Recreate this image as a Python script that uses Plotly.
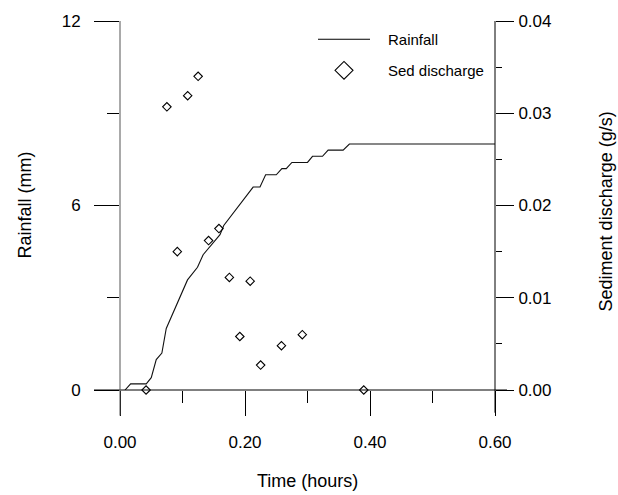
import plotly.graph_objects as go

# Rainfall cumulative (mm) vs time (hours)
rain_time = [0.008, 0.017, 0.042, 0.050, 0.058, 0.067, 0.074, 0.108, 0.124, 0.133,
             0.160, 0.166, 0.213, 0.224, 0.233, 0.250, 0.259, 0.266, 0.275, 0.300,
             0.308, 0.324, 0.333, 0.357, 0.367, 0.600]
rain_mm = [0.0, 0.2, 0.2, 0.4, 0.99, 1.2, 2.0, 3.58, 3.99, 4.4,
           5.05, 5.35, 6.6, 6.6, 7.0, 7.0, 7.2, 7.2, 7.4, 7.4,
           7.6, 7.6, 7.8, 7.8, 8.0, 8.0]

# Sediment discharge (g/s) vs time (hours)
sed_time = [0.0417, 0.0750, 0.0917, 0.1083, 0.1250, 0.1417, 0.1583, 0.1750,
            0.1917, 0.2083, 0.2250, 0.2583, 0.2917, 0.3900]
sed_gs = [0.0000, 0.0307, 0.0150, 0.0319, 0.0340, 0.0162, 0.0175, 0.0122,
          0.0058, 0.0118, 0.0027, 0.0048, 0.0060, 0.0000]

x_ticks = [0.0, 0.2, 0.4, 0.6]
x_ticktext = ["0.00", "0.20", "0.40", "0.60"]
y1_ticks = [0, 6, 12]
y1_ticktext = ["0", "6", "12"]
y2_ticks = [0.0, 0.01, 0.02, 0.03, 0.04]
y2_ticktext = ["0.00", "0.01", "0.02", "0.03", "0.04"]

FONT = "Arial, 'Liberation Sans', sans-serif"
W, H = 618, 495
L, R, T, B = 120, 123, 16, 105
PW, PH = W - L - R, H - T - B


def px(xp):
    return (xp - L) / PW


def py(yp):
    return (H - B - yp) / PH


fig = go.Figure()
fig.add_trace(go.Scatter(x=rain_time, y=rain_mm, mode="lines",
                         line=dict(color="#111111", width=1.1),
                         name="Rainfall", showlegend=False, yaxis="y"))
fig.add_trace(go.Scatter(x=sed_time, y=sed_gs, mode="markers",
                         marker=dict(symbol="diamond-open", size=6.5,
                                     color="black", line=dict(width=1.1, color="black")),
                         name="Sed discharge", showlegend=False, yaxis="y2",
                         cliponaxis=False))

tickfont = dict(family=FONT, size=17, color="black")

fig.update_layout(
    width=W, height=H,
    margin=dict(l=L, r=R, t=T, b=B),
    paper_bgcolor="white", plot_bgcolor="white",
    showlegend=False,
    xaxis=dict(range=[0, 0.6], showgrid=False, zeroline=False, showline=False,
               tickmode="array", tickvals=x_ticks, ticktext=x_ticktext,
               ticks="outside", ticklen=25, tickwidth=1, tickcolor="black",
               tickfont=tickfont, ticklabelstandoff=12,
               minor=dict(tickmode="array", tickvals=[0.1, 0.3, 0.5],
                          ticks="outside", ticklen=12, tickwidth=1, tickcolor="black")),
    yaxis=dict(range=[0, 12], showgrid=False, zeroline=False, showline=False,
               tickmode="array", tickvals=y1_ticks, ticktext=y1_ticktext,
               ticks="outside", ticklen=25, tickwidth=1, tickcolor="black",
               tickfont=tickfont, ticklabelstandoff=10,
               minor=dict(tickmode="array", tickvals=[3, 9],
                          ticks="outside", ticklen=12, tickwidth=1, tickcolor="black")),
    yaxis2=dict(range=[0, 0.04], overlaying="y", side="right", anchor="x",
                showgrid=False, zeroline=False, showline=False,
                tickmode="array", tickvals=y2_ticks, ticktext=y2_ticktext,
                ticks="outside", ticklen=18, tickwidth=1, tickcolor="black",
                tickfont=tickfont, ticklabelstandoff=1,
                minor=dict(tickmode="array", tickvals=[0.005, 0.015, 0.025, 0.035],
                           ticks="outside", ticklen=6, tickwidth=1, tickcolor="black")),
)

# Axis lines (extend past the plot area like the original)
fig.add_shape(type="line", xref="paper", yref="paper",
              x0=px(94), x1=px(507), y0=0, y1=0, line=dict(color="black", width=1))
fig.add_shape(type="line", xref="paper", yref="paper",
              x0=0, x1=0, y0=py(416), y1=1, line=dict(color="#555555", width=1))
fig.add_shape(type="line", xref="paper", yref="paper",
              x0=1, x1=1, y0=py(413), y1=1, line=dict(color="black", width=1))

# Legend (drawn manually)
fig.add_shape(type="line", xref="paper", yref="paper",
              x0=px(318), x1=px(370), y0=py(34.5), y1=py(34.5),
              line=dict(color="black", width=1))
cx, cy, hw = 344, 66, 9
fig.add_shape(type="path", xref="paper", yref="paper",
              path=(f"M {px(cx - hw)} {py(cy)} L {px(cx)} {py(cy - hw)} "
                    f"L {px(cx + hw)} {py(cy)} L {px(cx)} {py(cy + hw)} Z"),
              line=dict(color="black", width=1.1))
legfont = dict(family=FONT, size=15, color="black")
fig.add_annotation(text="Rainfall", xref="paper", yref="paper", x=px(386), y=py(35),
                   xanchor="left", yanchor="middle", showarrow=False, font=legfont)
fig.add_annotation(text="Sed discharge", xref="paper", yref="paper", x=px(386), y=py(66),
                   xanchor="left", yanchor="middle", showarrow=False, font=legfont)

# Axis titles
titlefont = dict(family=FONT, size=18, color="black")
fig.add_annotation(text="Rainfall (mm)", xref="paper", yref="paper", x=px(24), y=py(203),
                   textangle=-90, xanchor="center", yanchor="middle", showarrow=False,
                   font=titlefont)
fig.add_annotation(text="Sediment discharge (g/s)", xref="paper", yref="paper",
                   x=px(606), y=py(209), textangle=-90, xanchor="center",
                   yanchor="middle", showarrow=False, font=titlefont)
fig.add_annotation(text="Time (hours)", xref="paper", yref="paper", x=0.5, y=py(482),
                   xanchor="center", yanchor="middle", showarrow=False, font=titlefont)

fig.write_html("out.html")
